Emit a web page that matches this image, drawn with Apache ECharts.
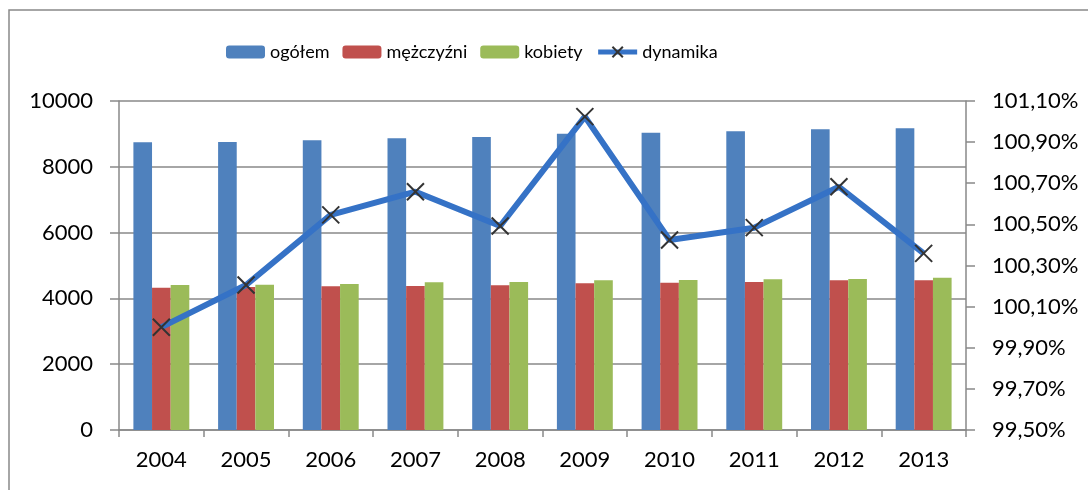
<!DOCTYPE html>
<html>
<head>
<meta charset="utf-8">
<script src="https://cdn.jsdelivr.net/npm/echarts@6/dist/echarts.min.js"></script>
<style>
  html, body { margin: 0; padding: 0; background: #fff; }
  #chart { width: 1088px; height: 490px; }
</style>
</head>
<body>
<div id="chart"></div>
<script>
// lata
var years = ['2004', '2005', '2006', '2007', '2008', '2009', '2010', '2011', '2012', '2013'];
// liczba ludności (tys.)
var ogolem = [8745, 8754, 8805, 8866, 8906, 9007, 9037, 9078, 9139, 9169];
var mezczyzni = [4326, 4350, 4367, 4377, 4397, 4458, 4478, 4498, 4549, 4549];
var kobiety = [4407, 4417, 4438, 4489, 4498, 4549, 4559, 4579, 4590, 4630];
// dynamika w %
var dynamika = [100.00, 100.205, 100.546, 100.659, 100.492, 101.024, 100.424, 100.484, 100.683, 100.359];
// podziałka prawej osi
var pctTicks = [99.5, 99.7, 99.9, 100.1, 100.3, 100.5, 100.7, 100.9, 101.1];

var FONT = 'Lato';
var GRAY = '#898989';

var chart = echarts.init(document.getElementById('chart'));

chart.setOption({
    animation: false,
    textStyle: { fontFamily: FONT, color: '#000' },
    graphic: [{
        type: 'rect',
        shape: { x: 9, y: 10, width: 1200, height: 600 },
        style: { fill: 'none', stroke: GRAY, lineWidth: 1.5 },
        silent: true
    }],
    legend: {
        left: 221,
        top: 38,
        itemWidth: 39,
        itemHeight: 13,
        itemGap: 13,
        textStyle: { fontFamily: FONT, fontSize: 18, color: '#000' },
        lineStyle: { width: 5 },
        data: ['ogółem', 'mężczyźni', 'kobiety', 'dynamika']
    },
    grid: { left: 119, right: 122, top: 101, bottom: 60, containLabel: false },
    xAxis: {
        type: 'category',
        data: years,
        boundaryGap: true,
        axisLine: { lineStyle: { color: GRAY, width: 1.5 } },
        axisTick: { show: true, length: 7, alignWithLabel: false, lineStyle: { color: GRAY, width: 1.5 } },
        axisLabel: { fontFamily: FONT, fontSize: 22, color: '#000', margin: 19 }
    },
    yAxis: [{
        type: 'value',
        min: 0,
        max: 10000,
        interval: 2000,
        axisLine: { show: true, lineStyle: { color: GRAY, width: 1.5 } },
        axisTick: { show: true, length: 9, lineStyle: { color: GRAY, width: 1.5 } },
        splitLine: { show: true, lineStyle: { color: GRAY, width: 1.5 } },
        axisLabel: {
            fontFamily: FONT, fontSize: 22, color: '#000', margin: 26,
            formatter: function (v) { return String(v); }
        }
    }, {
        type: 'value',
        position: 'right',
        min: 99.5,
        max: 101.1,
        axisLine: { show: true, lineStyle: { color: GRAY, width: 1.5 } },
        axisTick: { show: true, length: 9, customValues: pctTicks, lineStyle: { color: GRAY, width: 1.5 } },
        splitLine: { show: false },
        axisLabel: {
            fontFamily: FONT, fontSize: 22, color: '#000', margin: 26,
            customValues: pctTicks,
            formatter: function (v) { return v.toFixed(2).replace('.', ',') + '%'; }
        }
    }],
    series: [{
        name: 'ogółem',
        type: 'bar',
        data: ogolem,
        barGap: '0%',
        barCategoryGap: '34%',
        itemStyle: { color: '#4F81BD' }
    }, {
        name: 'mężczyźni',
        type: 'bar',
        data: mezczyzni,
        itemStyle: { color: '#C0504D' }
    }, {
        name: 'kobiety',
        type: 'bar',
        data: kobiety,
        itemStyle: { color: '#9BBB59' }
    }, {
        name: 'dynamika',
        type: 'line',
        yAxisIndex: 1,
        data: dynamika,
        z: 5,
        symbol: 'path://M0,0L10,10M10,0L0,10',
        symbolSize: 17,
        showAllSymbol: true,
        lineStyle: { color: '#3572C6', width: 6 },
        itemStyle: { color: '#333', borderColor: '#333', borderWidth: 2 }
    }]
});
</script>
</body>
</html>
